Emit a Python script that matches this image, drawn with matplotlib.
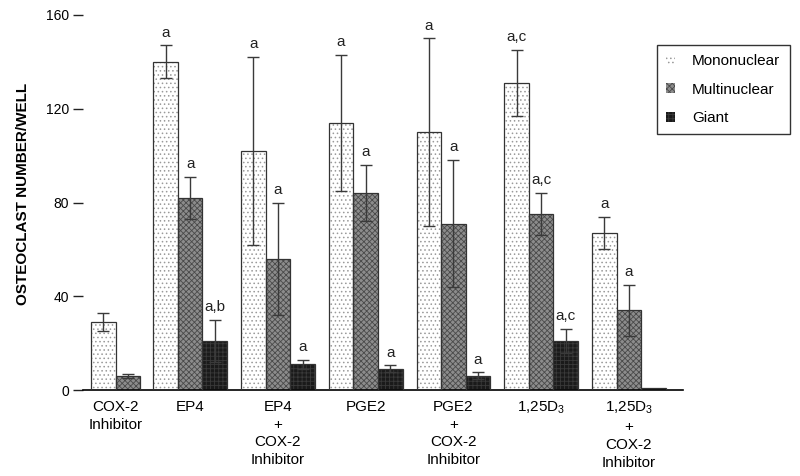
import numpy as np
import matplotlib
matplotlib.use("Agg")
import matplotlib.pyplot as plt
from matplotlib.patches import Patch

plt.rcParams['font.family'] = ['Liberation Sans', 'DejaVu Sans']
plt.rcParams['mathtext.default'] = 'regular'
plt.rcParams['hatch.linewidth'] = 0.6

# data
groups = ['COX-2\nInhibitor', 'EP4', 'EP4\n+\nCOX-2\nInhibitor', 'PGE2',
          'PGE2\n+\nCOX-2\nInhibitor', '1,25D$_3$', '1,25D$_3$\n+\nCOX-2\nInhibitor']
series = ['Mononuclear', 'Multinuclear', 'Giant']
mono = [29, 140, 102, 114, 110, 131, 67]
mono_err = [4, 7, 40, 29, 40, 14, 7]
multi = [6, 82, 56, 84, 71, 75, 34]
multi_err = [1, 9, 24, 12, 27, 9, 11]
giant = [0, 21, 11, 9, 6, 21, 1]
giant_err = [0, 9, 2, 1.5, 1.5, 5, 0]
mono_txt = ['', 'a', 'a', 'a', 'a', 'a,c', 'a']
multi_txt = ['', 'a', 'a', 'a', 'a', 'a,c', 'a']
giant_txt = ['', 'a,b', 'a', 'a', 'a', 'a,c', '']

values = [mono, multi, giant]
errors = [mono_err, multi_err, giant_err]
texts = [mono_txt, multi_txt, giant_txt]
faces = ['white', '#8c8c8c', '#1a1a1a']
hatch_cols = ['#9a9a9a', '#4a4a4a', '#3a3a3a']
hatches = ['....', 'xxxxxx', '++++']

fig = plt.figure(figsize=(8, 4.76), dpi=100)
ax = fig.add_axes([83 / 800, 86 / 476, 600 / 800, 375 / 476])

# group centres (in bar widths); first group sits closer
centers = np.concatenate([[0], 2.53 + 3.57 * np.arange(6)])

for i in range(3):
    x = centers - 1 + i
    ax.bar(x, values[i], width=1, color=faces[i], hatch=hatches[i],
           edgecolor=hatch_cols[i], linewidth=0, zorder=2)
    ax.bar(x, values[i], width=1, fill=False, edgecolor='#333333',
           linewidth=0.9, zorder=3)
    for j in range(len(centers)):
        if errors[i][j] > 0:
            ax.errorbar(x[j], values[i][j], yerr=errors[i][j], fmt='none',
                        ecolor='#3a3a3a', elinewidth=1, capsize=4,
                        capthick=1, zorder=4)
        if texts[i][j]:
            ax.text(x[j], values[i][j] + errors[i][j] + 2.5, texts[i][j],
                    ha='center', va='bottom', fontsize=11, color='#222222')

ax.set_ylim(0, 160)
ax.set_xlim(centers[0] - 1.83, centers[-1] + 2.2)
ax.set_yticks([0, 40, 80, 120, 160])
ax.tick_params(axis='y', length=7, width=1, labelsize=10, pad=3, color='#222222')
label_pos = centers.copy()
label_pos[0] = centers[0] - 0.5
ax.set_xticks(label_pos, groups, fontsize=11, linespacing=1.35)
ax.tick_params(axis='x', length=0, pad=7)

for s in ['top', 'right', 'left']:
    ax.spines[s].set_visible(False)
ax.spines['bottom'].set_linewidth(1.2)

fig.text(23 / 800, 1 - 194 / 476, 'OSTEOCLAST NUMBER/WELL', rotation=90,
         ha='center', va='center', fontsize=11, fontweight='bold')

handles = [Patch(facecolor=faces[i], hatch=hatches[i], edgecolor=hatch_cols[i],
                 linewidth=0) for i in range(3)]
leg = fig.legend(handles, series, loc='upper left',
                 bbox_to_anchor=(657 / 800, 1 - 45 / 476), borderaxespad=0,
                 fontsize=11, frameon=True, fancybox=False, edgecolor='black',
                 handlelength=0.6, handleheight=0.6, labelspacing=0.95,
                 borderpad=0.6, handletextpad=1.1)
leg.get_frame().set_linewidth(1.0)

fig.savefig('out.png', dpi=100)
